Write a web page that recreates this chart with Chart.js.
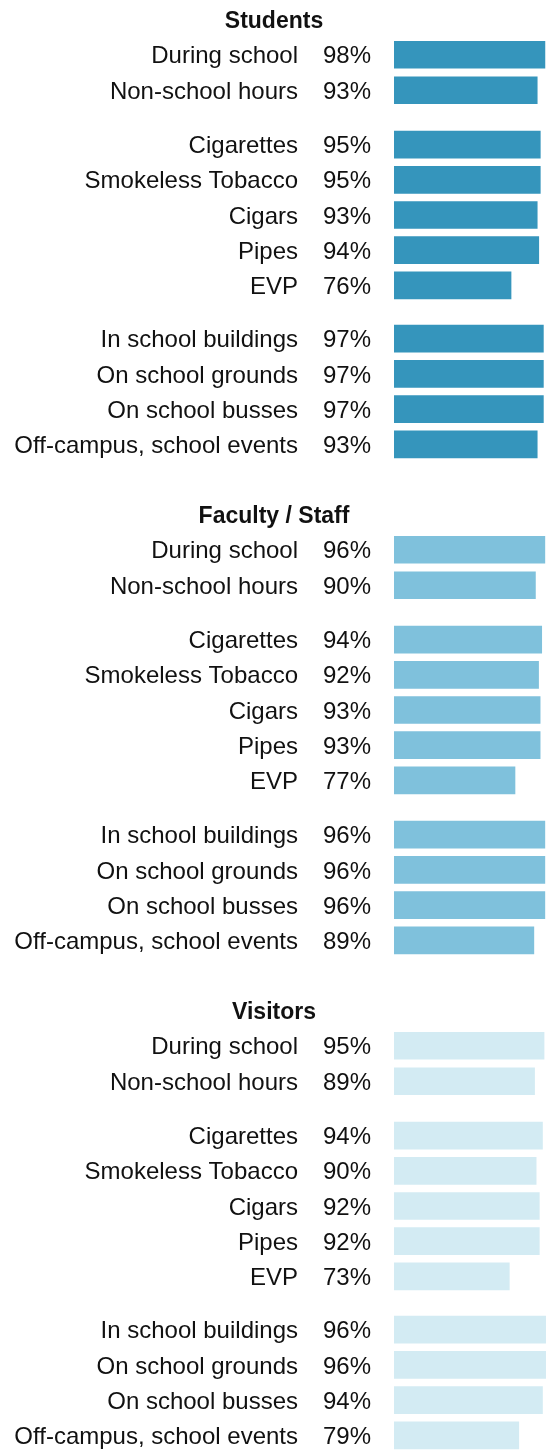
<!DOCTYPE html>
<html lang="en">
<head>
<meta charset="UTF-8" />
<title>Tobacco-free policy coverage</title>
<style>
  body { margin: 0; background: #fff; }
  #page { position: relative; width: 549px; height: 1450px; overflow: hidden; }
  .block { position: absolute; left: 0; width: 549px; }
</style>
</head>
<body>
<div id="page"></div>

<script src="https://cdn.jsdelivr.net/npm/chart.js"></script>
<script>
// row labels, one list per block of bars
const timeLabels = ["During school", "Non-school hours"];
const productLabels = ["Cigarettes", "Smokeless Tobacco", "Cigars", "Pipes", "EVP"];
const placeLabels = ["In school buildings", "On school grounds", "On school busses", "Off-campus, school events"];

const groups = ["Students", "Faculty / Staff", "Visitors"];

// percent values, in the order: time, products, places
const studentValues = [98, 93, 95, 95, 93, 94, 76, 97, 97, 97, 93];
const staffValues = [96, 90, 94, 92, 93, 93, 77, 96, 96, 96, 89];
const visitorValues = [95, 89, 94, 90, 92, 92, 73, 96, 96, 94, 79];

const groupValues = [studentValues, staffValues, visitorValues];
const groupColors = ["#3595bc", "#7fc1dc", "#d3ebf3"];
const groupMax = [100, 98, 97.5];

const FONT = "'Liberation Sans', Arial, sans-serif";

// draws the "98%" text left of each bar
const pctLabels = {
    id: "pctLabels",
    afterDatasetsDraw(chart) {
        const ctx = chart.ctx;
        const meta = chart.getDatasetMeta(0);
        const vals = chart.data.datasets[0].data;
        ctx.save();
        ctx.font = "24px " + FONT;
        ctx.fillStyle = "#111";
        ctx.textAlign = "right";
        ctx.textBaseline = "middle";
        meta.data.forEach(function (bar, i) {
            ctx.fillText(vals[i] + "%", chart.chartArea.left - 23, bar.y + 2);
        });
        ctx.restore();
    }
};

function makeBlock(top, height, labels, values, color, xMax, title) {
    const div = document.createElement("div");
    div.className = "block";
    div.style.top = top + "px";
    div.style.height = height + "px";
    const canvas = document.createElement("canvas");
    div.appendChild(canvas);
    document.getElementById("page").appendChild(div);

    new Chart(canvas, {
        type: "bar",
        data: {
            labels: labels,
            datasets: [{
                data: values,
                backgroundColor: color,
                barThickness: 27
            }]
        },
        options: {
            indexAxis: "y",
            responsive: true,
            maintainAspectRatio: false,
            animation: false,
            events: [],
            layout: { padding: { left: 0, right: 1, top: 0, bottom: 0 } },
            plugins: {
                legend: { display: false },
                tooltip: { enabled: false },
                title: {
                    display: !!title,
                    text: title || "",
                    color: "#111",
                    font: { family: FONT, size: 23, weight: "bold", lineHeight: 1.2 },
                    padding: { top: 6, bottom: 1.4 }
                }
            },
            scales: {
                x: { display: false, min: 0, max: xMax },
                y: {
                    grid: { display: false, drawTicks: false },
                    border: { display: false },
                    ticks: {
                        autoSkip: false,
                        padding: 96,
                        labelOffset: 2,
                        color: "#111",
                        font: { family: FONT, size: 24 }
                    },
                    afterFit: function (scale) {
                        // fixed axis width, and no extra room above/below from the tick padding
                        scale.width = 394;
                        scale.paddingTop = 0;
                        scale.paddingBottom = 0;
                    }
                }
            }
        },
        plugins: [pctLabels]
    });
}

const pitch = 35.25;
groups.forEach(function (name, g) {
    const vals = groupValues[g];
    const first = 54.3 + 495.5 * g;   // centre of the first bar of the section
    makeBlock(Math.round(first - pitch / 2 - 35), 106, timeLabels, vals.slice(0, 2), groupColors[g], groupMax[g], name);
    makeBlock(Math.round(first + 90 - pitch / 2), 176, productLabels, vals.slice(2, 7), groupColors[g], groupMax[g]);
    makeBlock(Math.round(first + 284.5 - pitch / 2), 141, placeLabels, vals.slice(7), groupColors[g], groupMax[g]);
});
</script>
</body>
</html>
